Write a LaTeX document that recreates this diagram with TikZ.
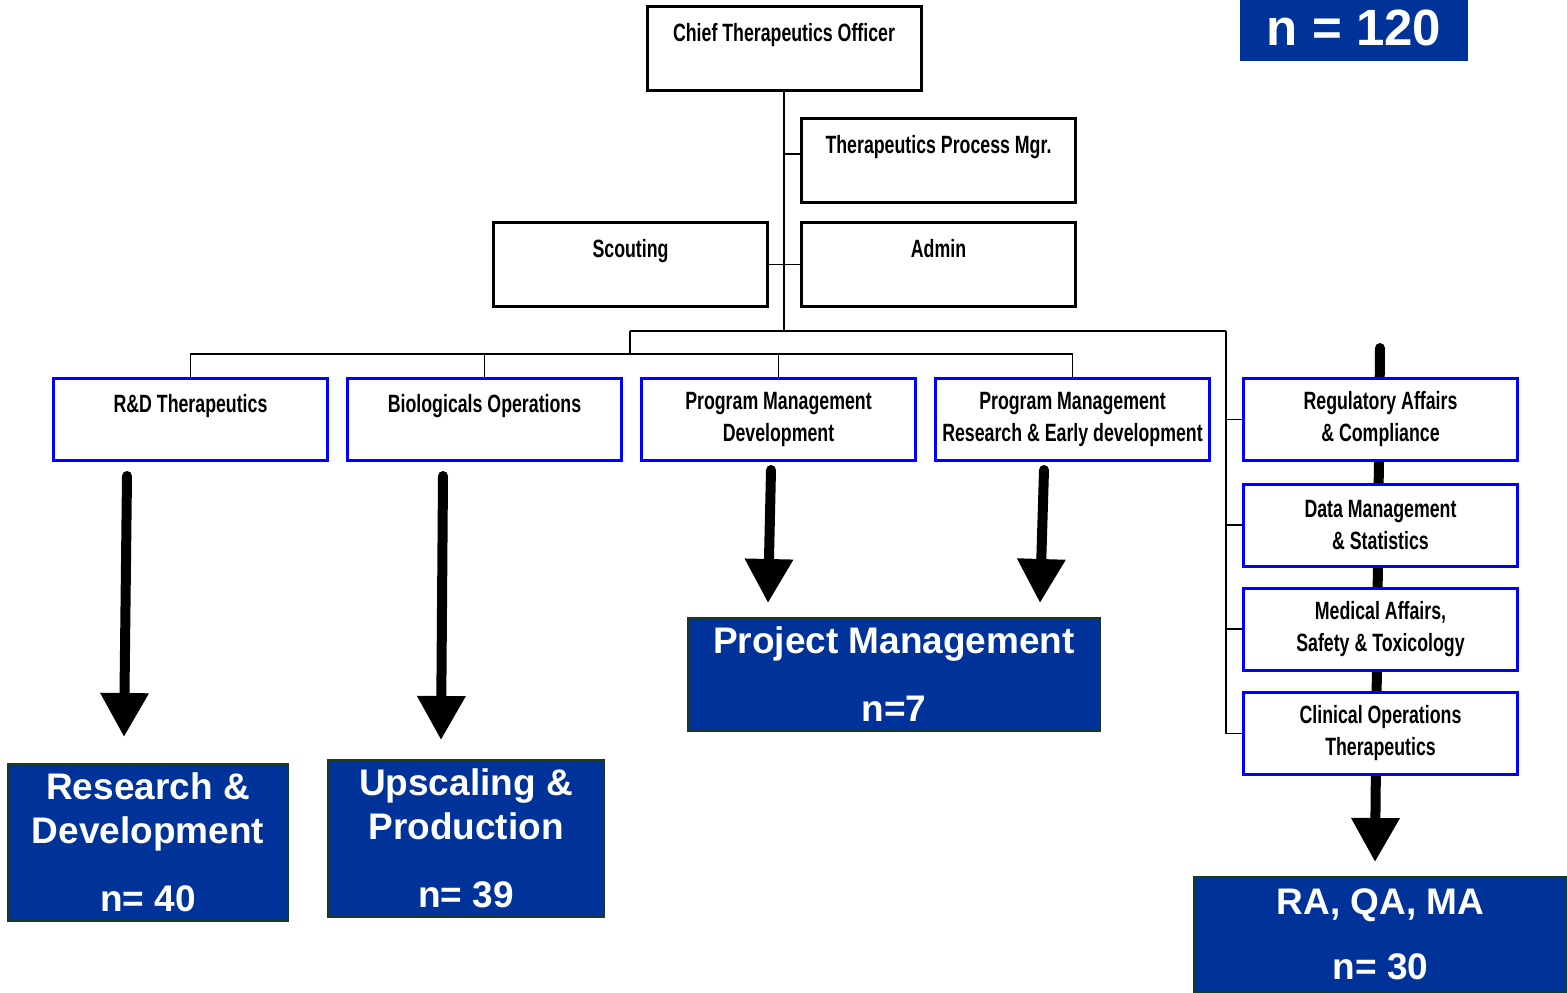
\documentclass[tikz,border=0pt]{standalone}
\usepackage{fontspec}
\setmainfont{Liberation Sans}
\newfontfamily\narrowbf[FakeStretch=0.71,UprightFont={* Bold}]{Liberation Sans}
\usetikzlibrary{arrows.meta}
\definecolor{orgblue}{HTML}{003399}
\definecolor{orgline}{HTML}{0000FF}
\definecolor{orgedge}{HTML}{1E3A1E}

\tikzset{
  mgrbox/.style={draw=black, line width=3pt, fill=white, minimum width=274pt,
    minimum height=84pt, inner sep=0pt, align=center,
    font=\narrowbf\fontsize{25}{32}\selectfont},
  deptbox/.style={mgrbox, draw=orgline, minimum height=82pt},
  teambox/.style={draw=orgedge, line width=1.5pt, fill=orgblue, text=white,
    inner sep=0pt, align=center, font=\bfseries\fontsize{37}{44}\selectfont},
  tline/.style={line width=1.9pt},
  bigarrow/.style={line width=10pt, line cap=round,
    -{Triangle[width=46pt,length=44pt]}}
}

\begin{document}
\begin{tikzpicture}[x=1pt,y=-1pt]
\useasboundingbox (0,0) rectangle (1567,993);

% thick line behind the right column
\coordinate (rcs) at (1380,348);
\coordinate (rce) at (1375,862);
\draw[bigarrow] (rcs) -- (rce);

% top of the tree
\node[mgrbox] (chief) at (784,48.5) {Chief Therapeutics Officer\\\mbox{}};
\node[mgrbox] (tpm) at (938.5,160.5) {Therapeutics Process Mgr.\\\mbox{}};
\node[mgrbox] (scout) at (630.5,264.5) {Scouting\\\mbox{}};
\node[mgrbox] (admin) at (938.5,264.5) {Admin\\\mbox{}};

% departments
\node[deptbox] (rdt) at (190.5,419.5) {R\&D Therapeutics\\\mbox{}};
\node[deptbox] (bio) at (484.5,419.5) {Biologicals Operations\\\mbox{}};
\node[deptbox] (pmd) at (778.5,419.5) {Program Management\\Development};
\node[deptbox] (pmr) at (1072.5,419.5) {Program Management\\Research \& Early development};

\node[deptbox] (rac) at (1380.5,419.5) {Regulatory Affairs\\\& Compliance};
\node[deptbox] (dms) at (1380.5,525) {Data Management\\\& Statistics};
\node[deptbox] (mst) at (1380.5,629) {Medical Affairs,\\Safety \& Toxicology};
\node[deptbox] (cot) at (1380.5,733.5) {Clinical Operations\\Therapeutics};

% connectors
\coordinate (hub) at (784,331);
\coordinate (lhub) at (630,331);
\coordinate (rhub) at (1226,331);
\coordinate (tpmstub) at (784,154);
\draw[tline] (chief) -- (hub);
\draw[tline] (tpmstub) -- (tpmstub -| tpm.west);
\draw[tline] (scout.east) -- (admin.west);
\draw[tline] (lhub) -- (rhub);
\draw[tline] (lhub) -- ++(0,23);
\draw[tline] (rdt.north) -- ++(0,-23) -| (pmr.north);
\draw[tline] (bio.north) -- ++(0,-23);
\draw[tline] (pmd.north) -- ++(0,-23);
\draw[tline] (rhub) |- (cot.west);
\foreach \d in {rac,dms,mst}
  \draw[tline] (\d.west) -- (\d.west -| rhub);

% teams
\node[teambox, minimum width=280pt, minimum height=157pt] (rnd) at (148,842.5)
  {Research \&\\Development\\[24pt]n= 40};
\node[teambox, minimum width=276pt, minimum height=157pt] (ups) at (466,838.5)
  {Upscaling \&\\Production\\[24pt]n= 39};
\node[teambox, minimum width=412pt, minimum height=113pt,
  font=\bfseries\fontsize{37}{68}\selectfont] (prm) at (894,674.5)
  {Project Management\\n=7};
\node[teambox, minimum width=373pt, minimum height=115pt,
  font=\bfseries\fontsize{37}{65}\selectfont] (rqm) at (1380.5,934.5)
  {RA, QA, MA\\n= 30};
\node[teambox, draw=none, minimum width=228pt, minimum height=66pt,
  font=\bfseries\fontsize{51}{54}\selectfont] (ntot) at (1354,28) {n = 120};

% arrows to the teams
\coordinate (a1s) at (127,476);
\coordinate (a1e) at (124,737);
\coordinate (a2s) at (443,476);
\coordinate (a2e) at (441,740);
\coordinate (a3s) at (771,470);
\coordinate (a3e) at (768,603);
\coordinate (a4s) at (1044,470);
\coordinate (a4e) at (1040,603);
\draw[bigarrow] (a1s) -- (a1e);
\draw[bigarrow] (a2s) -- (a2e);
\draw[bigarrow] (a3s) -- (a3e);
\draw[bigarrow] (a4s) -- (a4e);
\end{tikzpicture}
\end{document}
